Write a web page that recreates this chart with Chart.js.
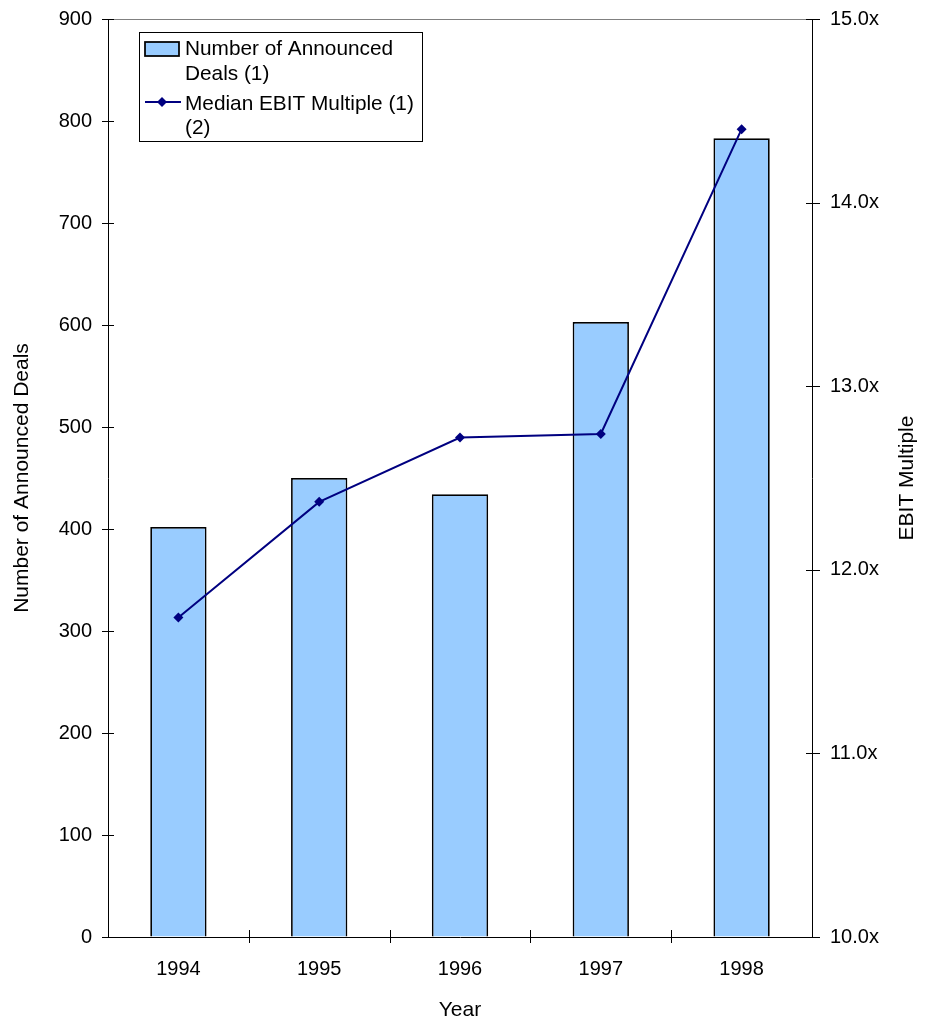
<!DOCTYPE html>
<html>
<head>
<meta charset="utf-8">
<script src="https://cdn.jsdelivr.net/npm/chart.js@4/dist/chart.umd.min.js"></script>
<style>
  html, body { margin: 0; padding: 0; background: #ffffff; }
  #wrap { width: 926px; height: 1023px; }
</style>
</head>
<body>
<div id="wrap"><canvas id="c" width="926" height="1023"></canvas></div>
<script>
// Deal volume and valuation by year
const years = ['1994', '1995', '1996', '1997', '1998'];
const announcedDeals = [402, 450, 434, 603, 783];
const medianEbitMultiple = [11.74, 12.37, 12.72, 12.74, 14.40];

const dealTicks = [0, 100, 200, 300, 400, 500, 600, 700, 800, 900];
const multipleTicks = [10, 11, 12, 13, 14, 15];

const dealsLabel = 'Number of Announced Deals (1)';
const multipleLabel = 'Median EBIT Multiple (1) (2)';
const leftTitle = 'Number of Announced Deals';
const rightTitle = 'EBIT Multiple';
const bottomTitle = 'Year';

const FONT = '"Liberation Sans", Arial, Helvetica, sans-serif';
const BAR_FILL = '#99CCFF';
const LINE_COLOR = '#000080';

// Cross-shaped tick marks, the grey top frame and the right-hand title
const axisDecor = {
  id: 'axisDecor',
  afterDraw(chart) {
    const { ctx, chartArea: a, scales } = chart;
    ctx.save();
    ctx.lineWidth = 1;
    // grey frame along the top edge
    ctx.strokeStyle = '#808080';
    ctx.beginPath();
    ctx.moveTo(a.left, a.top + 0.5);
    ctx.lineTo(a.right, a.top + 0.5);
    ctx.stroke();

    ctx.strokeStyle = '#000000';
    ctx.beginPath();
    scales.y.ticks.forEach(t => {
      const yy = Math.round(scales.y.getPixelForValue(t.value)) + 0.5;
      ctx.moveTo(a.left - 6, yy);
      ctx.lineTo(a.left + 6, yy);
    });
    scales.y1.ticks.forEach(t => {
      const yy = Math.round(scales.y1.getPixelForValue(t.value)) + 0.5;
      ctx.moveTo(a.right - 6, yy);
      ctx.lineTo(a.right + 8, yy);
    });
    const n = years.length;
    for (let i = 1; i < n; i++) {
      const xx = Math.round((scales.x.getPixelForValue(i - 1) + scales.x.getPixelForValue(i)) / 2) + 0.5;
      ctx.moveTo(xx, a.bottom - 7);
      ctx.lineTo(xx, a.bottom + 6);
    }
    ctx.stroke();

    // right axis title, reading bottom to top
    ctx.fillStyle = '#000000';
    ctx.font = '21px ' + FONT;
    ctx.textAlign = 'center';
    ctx.textBaseline = 'middle';
    ctx.translate(907, (a.top + a.bottom) / 2);
    ctx.rotate(-Math.PI / 2);
    ctx.fillText(rightTitle, 0, 0);
    ctx.restore();
  }
};

// Boxed legend inside the plot, with wrapped labels
const boxedLegend = {
  id: 'boxedLegend',
  afterDraw(chart) {
    const { ctx, chartArea: a } = chart;
    const x0 = a.left + 31, y0 = a.top + 13, w = 283, h = 109;
    ctx.save();
    ctx.fillStyle = '#ffffff';
    ctx.fillRect(x0, y0, w, h);
    ctx.strokeStyle = '#000000';
    ctx.lineWidth = 1;
    ctx.strokeRect(x0 + 0.5, y0 + 0.5, w, h);

    // bar swatch
    ctx.fillStyle = BAR_FILL;
    ctx.fillRect(x0 + 6, y0 + 10, 34, 14);
    ctx.lineWidth = 1.75;
    ctx.strokeRect(x0 + 6, y0 + 10, 34, 14);

    // line swatch with diamond marker
    const ly = y0 + 70;
    ctx.strokeStyle = LINE_COLOR;
    ctx.lineWidth = 2;
    ctx.beginPath();
    ctx.moveTo(x0 + 6, ly);
    ctx.lineTo(x0 + 42, ly);
    ctx.stroke();
    const cx = x0 + 23, r = 5;
    ctx.fillStyle = LINE_COLOR;
    ctx.beginPath();
    ctx.moveTo(cx, ly - r);
    ctx.lineTo(cx + r, ly);
    ctx.lineTo(cx, ly + r);
    ctx.lineTo(cx - r, ly);
    ctx.closePath();
    ctx.fill();

    ctx.fillStyle = '#000000';
    ctx.font = '20.8px ' + FONT;
    ctx.textAlign = 'left';
    ctx.textBaseline = 'middle';
    const tx = x0 + 46;
    ctx.fillText('Number of Announced', tx, y0 + 17);
    ctx.fillText('Deals (1)', tx, y0 + 42);
    ctx.fillText('Median EBIT Multiple (1)', tx, y0 + 72);
    ctx.fillText('(2)', tx, y0 + 96);
    ctx.restore();
  }
};

function noVerticalPadding(s) {
  s.paddingTop = 0;
  s.paddingBottom = 0;
}

new Chart(document.getElementById('c'), {
  data: {
    labels: years,
    datasets: [
      {
        type: 'line',
        label: multipleLabel,
        data: medianEbitMultiple,
        yAxisID: 'y1',
        order: 0,
        borderColor: LINE_COLOR,
        backgroundColor: LINE_COLOR,
        borderWidth: 2,
        tension: 0,
        pointStyle: 'rectRot',
        pointRadius: 5,
        pointBackgroundColor: LINE_COLOR,
        pointBorderColor: LINE_COLOR,
        pointBorderWidth: 0,
        fill: false
      },
      {
        type: 'bar',
        label: dealsLabel,
        data: announcedDeals,
        yAxisID: 'y',
        order: 1,
        backgroundColor: BAR_FILL,
        borderColor: '#000000',
        borderWidth: 1.75,
        barPercentage: 0.4,
        categoryPercentage: 1.0
      }
    ]
  },
  options: {
    responsive: false,
    animation: false,
    layout: { padding: { top: 19, left: 0, right: 0, bottom: 0 } },
    plugins: {
      legend: { display: false },
      tooltip: { enabled: false }
    },
    scales: {
      x: {
        type: 'category',
        offset: true,
        grid: { display: true, drawOnChartArea: false, drawTicks: false, offset: true },
        border: { display: true, color: '#000000', width: 1 },
        ticks: { color: '#000000', font: { family: FONT, size: 20 }, padding: 20, maxRotation: 0 },
        title: { display: true, text: bottomTitle, color: '#000000', font: { family: FONT, size: 21 }, padding: 0 },
        afterFit(s) { s.height = 86; s.paddingLeft = 0; s.paddingRight = 0; }
      },
      y: {
        position: 'left',
        min: 0,
        max: 900,
        afterBuildTicks(s) { s.ticks = dealTicks.map(v => ({ value: v })); },
        grid: { display: true, drawOnChartArea: false, drawTicks: false },
        border: { display: true, color: '#000000', width: 1 },
        ticks: { color: '#000000', font: { family: FONT, size: 20 }, padding: 16 },
        title: { display: true, text: leftTitle, color: '#000000', font: { family: FONT, size: 21 }, padding: 10 },
        afterFit(s) { s.width = 108; noVerticalPadding(s); }
      },
      y1: {
        position: 'right',
        min: 10,
        max: 15,
        afterBuildTicks(s) { s.ticks = multipleTicks.map(v => ({ value: v })); },
        grid: { display: true, drawOnChartArea: false, drawTicks: false },
        border: { display: true, color: '#000000', width: 1 },
        ticks: {
          color: '#000000',
          font: { family: FONT, size: 20 },
          padding: 18,
          callback: v => Number(v).toFixed(1) + 'x'
        },
        afterFit(s) { s.width = 114; noVerticalPadding(s); }
      }
    }
  },
  plugins: [axisDecor, boxedLegend]
});
</script>
</body>
</html>
